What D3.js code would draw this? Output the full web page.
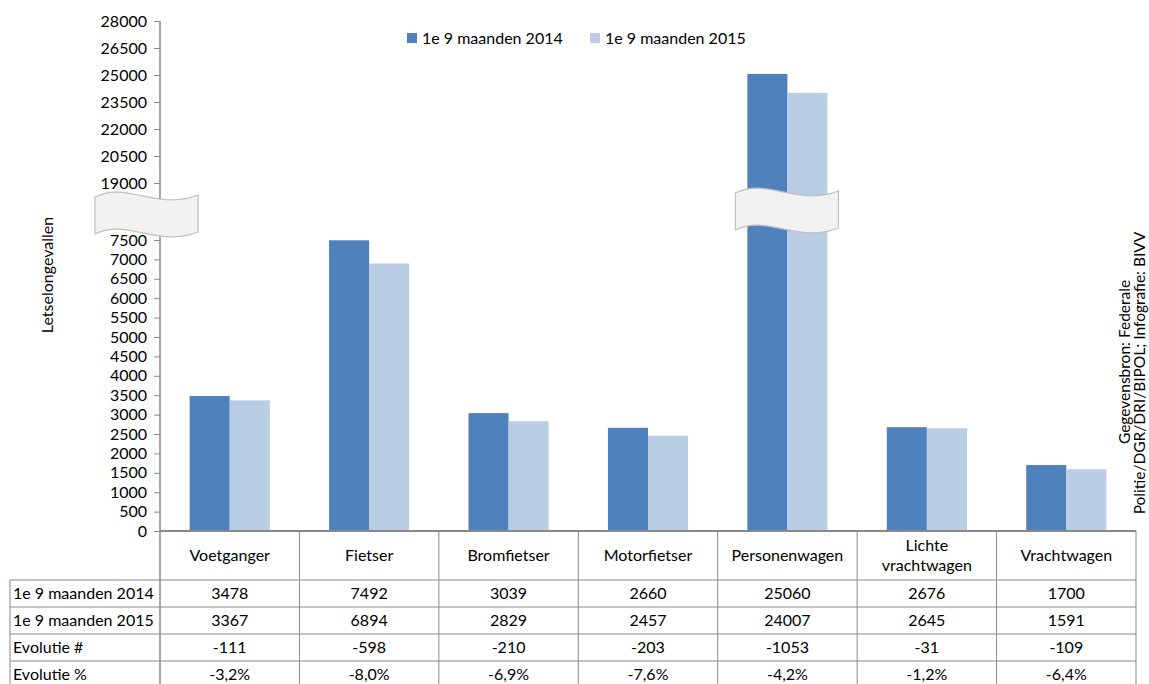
<!DOCTYPE html>
<html>
<head>
<meta charset="utf-8">
<script src="https://cdn.jsdelivr.net/npm/d3@7"></script>
<style>
  body { margin: 0; background: #fff; }
  svg { display: block; }
  text { font-family: Lato, "Open Sans", sans-serif; fill: #000; }
</style>
</head>
<body>
<div id="chart"></div>
<script>
// data
const categories = ["Voetganger", "Fietser", "Bromfietser", "Motorfietser", "Personenwagen", "Lichte vrachtwagen", "Vrachtwagen"];
const seriesNames = ["1e 9 maanden 2014", "1e 9 maanden 2015"];
const values2014 = [3478, 7492, 3039, 2660, 25060, 2676, 1700];
const values2015 = [3367, 6894, 2829, 2457, 24007, 2645, 1591];
const evolutieAbs = ["-111", "-598", "-210", "-203", "-1053", "-31", "-109"];
const evolutiePct = ["-3,2%", "-8,0%", "-6,9%", "-7,6%", "-4,2%", "-1,2%", "-6,4%"];
const lowerTicks = [0, 500, 1000, 1500, 2000, 2500, 3000, 3500, 4000, 4500, 5000, 5500, 6000, 6500, 7000, 7500];
const upperTicks = [19000, 20500, 22000, 23500, 25000, 26500, 28000];
const colors = ["#4f81bd", "#b9cde5"];

const width = 1149, height = 684;
const svg = d3.select("#chart").append("svg")
  .attr("width", width)
  .attr("height", height);

const x = d3.scaleBand().domain(categories).range([160, 1136]);
const xInner = d3.scaleBand().domain(seriesNames).range([0, x.bandwidth()]).paddingOuter(0.74);
const yLow = d3.scaleLinear().domain([0, 7500]).range([531, 240]);
const yHigh = d3.scaleLinear().domain([19000, 28000]).range([183, 21]);
const breakValue = 7500;
const yPos = v => v > breakValue ? yHigh(v) : yLow(v);

const gridColor = "#898989";
const fs = 16;

// bars
const rows = categories.map((c, i) => ({ cat: c, vals: [values2014[i], values2015[i]] }));
const groups = svg.append("g").selectAll("g")
  .data(rows).join("g")
  .attr("transform", d => `translate(${x(d.cat)},0)`);
groups.selectAll("rect")
  .data(d => d.vals.map((v, j) => ({ name: seriesNames[j], v, j })))
  .join("rect")
  .attr("x", d => xInner(d.name))
  .attr("width", xInner.bandwidth())
  .attr("y", d => yPos(d.v))
  .attr("height", d => yLow(0) - yPos(d.v))
  .attr("fill", d => colors[d.j]);

// y axes (two parts)
const axisLow = d3.axisLeft(yLow).tickValues(lowerTicks).tickSize(6).tickFormat(d3.format("d"));
const axisHigh = d3.axisLeft(yHigh).tickValues(upperTicks).tickSize(6).tickFormat(d3.format("d"));
[axisLow, axisHigh].forEach(ax => {
  const g = svg.append("g").attr("transform", "translate(160,0)").call(ax);
  g.select(".domain").remove();
  g.selectAll("line").attr("stroke", gridColor);
  g.selectAll("text").attr("x", -13).style("font-size", fs + "px").style("font-family", "Lato");
});
svg.append("line")
  .attr("x1", 160).attr("x2", 160)
  .attr("y1", yHigh(28000)).attr("y2", 684)
  .attr("stroke", gridColor).attr("stroke-width", 1.5);

// break symbols
function breakPath(x0, y0) {
  const w = 103, h = 37;
  return `M${x0},${y0 + 8} C${x0 + 32},${y0 - 8} ${x0 + 62},${y0 + 22} ${x0 + w},${y0 + 6}`
    + ` L${x0 + w},${y0 + 6 + h} C${x0 + 62},${y0 + 22 + h} ${x0 + 32},${y0 - 8 + h} ${x0},${y0 + 8 + h} Z`;
}
svg.append("path")
  .attr("d", breakPath(x(categories[0]) - 65, yHigh(19000) + 6))
  .attr("fill", "#f2f2f2").attr("stroke", "#bfbfbf").attr("stroke-width", 1.2);
svg.append("path")
  .attr("d", breakPath(x("Personenwagen") + x.bandwidth() / 2 - 52, yHigh(19000) + 2))
  .attr("fill", "#f2f2f2").attr("stroke", "#bfbfbf").attr("stroke-width", 1.2);

// data table
const rowTops = [531, 580, 607, 634, 661, 688];
const right = x.range()[1];
const table = svg.append("g");
table.append("line").attr("x1", 160).attr("x2", right).attr("y1", 531).attr("y2", 531)
  .attr("stroke", gridColor).attr("stroke-width", 2);
rowTops.slice(1, 5).forEach(yy => {
  table.append("line").attr("x1", 10).attr("x2", right).attr("y1", yy).attr("y2", yy)
    .attr("stroke", gridColor);
});
categories.slice(1).forEach(c => {
  table.append("line").attr("x1", x(c)).attr("x2", x(c)).attr("y1", 531).attr("y2", 684)
    .attr("stroke", gridColor);
});
table.append("line").attr("x1", right).attr("x2", right).attr("y1", 531).attr("y2", 684)
  .attr("stroke", gridColor);
table.append("line").attr("x1", 10).attr("x2", 10).attr("y1", 580).attr("y2", 684)
  .attr("stroke", gridColor);

// category header
categories.forEach(c => {
  const cx = x(c) + x.bandwidth() / 2;
  const lines = c === "Lichte vrachtwagen" ? ["Lichte", "vrachtwagen"] : [c];
  const t = table.append("text")
    .attr("text-anchor", "middle")
    .style("font-size", fs + "px");
  lines.forEach((ln, k) => {
    t.append("tspan")
      .attr("x", cx)
      .attr("y", 561 + (k - (lines.length - 1) / 2) * 20)
      .text(ln);
  });
});

// table rows
const tableRows = [
  { label: seriesNames[0], cells: values2014.map(String) },
  { label: seriesNames[1], cells: values2015.map(String) },
  { label: "Evolutie #", cells: evolutieAbs },
  { label: "Evolutie %", cells: evolutiePct }
];
tableRows.forEach((r, i) => {
  const yy = rowTops[i + 1] + 19;
  table.append("text").attr("x", 13).attr("y", yy).style("font-size", fs + "px").text(r.label);
  r.cells.forEach((v, j) => {
    table.append("text")
      .attr("x", x(categories[j]) + x.bandwidth() / 2)
      .attr("y", yy)
      .attr("text-anchor", "middle")
      .style("font-size", fs + "px")
      .text(v);
  });
});

// legend
const legend = svg.append("g");
const legendX = [407, 590];
seriesNames.forEach((n, i) => {
  legend.append("rect").attr("x", legendX[i]).attr("y", 33).attr("width", 10).attr("height", 10)
    .attr("fill", colors[i]);
  legend.append("text").attr("x", legendX[i] + 15).attr("y", 44)
    .style("font-size", fs + "px").text(n);
});

// axis title
svg.append("text")
  .attr("transform", "translate(53,275) rotate(-90)")
  .attr("text-anchor", "middle")
  .style("font-size", fs + "px")
  .text("Letselongevallen");

// source
svg.append("text")
  .attr("transform", "translate(1130,362) rotate(-90)")
  .attr("text-anchor", "middle")
  .style("font-size", "15.5px")
  .text("Gegevensbron: Federale");
svg.append("text")
  .attr("transform", "translate(1145,373) rotate(-90)")
  .attr("text-anchor", "middle")
  .style("font-size", "15.5px")
  .text("Politie/DGR/DRI/BIPOL; Infografie: BIVV");
</script>
</body>
</html>
